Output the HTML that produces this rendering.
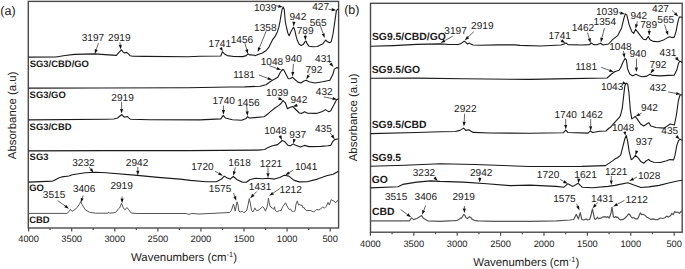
<!DOCTYPE html>
<html><head><meta charset="utf-8"><style>
html,body{margin:0;padding:0;background:#fff;}
svg{display:block;}
text{font-family:"Liberation Sans",sans-serif;fill:#222;text-rendering:geometricPrecision;}
.tk{font-size:9.3px;fill:#222;}
.ti{font-size:11.45px;fill:#222;}
.pl{font-size:12.5px;fill:#222;}
.la{font-size:9.45px;font-weight:bold;fill:#1a1a1a;}
.lb{font-size:10.4px;font-weight:bold;fill:#1a1a1a;}
.an{font-size:10.1px;fill:#222;}
</style></head><body>
<svg width="685" height="269" viewBox="0 0 685 269">
<rect width="685" height="269" fill="#fff"/>
<rect x="28.3" y="1.4" width="310.3" height="226.6" fill="none" stroke="#4a4a4a" stroke-width="1.4"/>
<rect x="370.5" y="3.3" width="311.7" height="228.9" fill="none" stroke="#4a4a4a" stroke-width="1.4"/>
<line x1="28.6" y1="228.0" x2="28.6" y2="231.5" stroke="#4a4a4a" stroke-width="1.2"/>
<text x="28.6" y="242.2" class="tk" text-anchor="middle">4000</text>
<line x1="50.1" y1="228.0" x2="50.1" y2="230.0" stroke="#4a4a4a" stroke-width="1.2"/>
<line x1="71.7" y1="228.0" x2="71.7" y2="231.5" stroke="#4a4a4a" stroke-width="1.2"/>
<text x="71.7" y="242.2" class="tk" text-anchor="middle">3500</text>
<line x1="93.2" y1="228.0" x2="93.2" y2="230.0" stroke="#4a4a4a" stroke-width="1.2"/>
<line x1="114.8" y1="228.0" x2="114.8" y2="231.5" stroke="#4a4a4a" stroke-width="1.2"/>
<text x="114.8" y="242.2" class="tk" text-anchor="middle">3000</text>
<line x1="136.3" y1="228.0" x2="136.3" y2="230.0" stroke="#4a4a4a" stroke-width="1.2"/>
<line x1="157.9" y1="228.0" x2="157.9" y2="231.5" stroke="#4a4a4a" stroke-width="1.2"/>
<text x="157.9" y="242.2" class="tk" text-anchor="middle">2500</text>
<line x1="179.4" y1="228.0" x2="179.4" y2="230.0" stroke="#4a4a4a" stroke-width="1.2"/>
<line x1="200.9" y1="228.0" x2="200.9" y2="231.5" stroke="#4a4a4a" stroke-width="1.2"/>
<text x="200.9" y="242.2" class="tk" text-anchor="middle">2000</text>
<line x1="222.5" y1="228.0" x2="222.5" y2="230.0" stroke="#4a4a4a" stroke-width="1.2"/>
<line x1="244.0" y1="228.0" x2="244.0" y2="231.5" stroke="#4a4a4a" stroke-width="1.2"/>
<text x="244.0" y="242.2" class="tk" text-anchor="middle">1500</text>
<line x1="265.6" y1="228.0" x2="265.6" y2="230.0" stroke="#4a4a4a" stroke-width="1.2"/>
<line x1="287.1" y1="228.0" x2="287.1" y2="231.5" stroke="#4a4a4a" stroke-width="1.2"/>
<text x="287.1" y="242.2" class="tk" text-anchor="middle">1000</text>
<line x1="308.7" y1="228.0" x2="308.7" y2="230.0" stroke="#4a4a4a" stroke-width="1.2"/>
<line x1="330.2" y1="228.0" x2="330.2" y2="231.5" stroke="#4a4a4a" stroke-width="1.2"/>
<text x="330.2" y="242.2" class="tk" text-anchor="middle">500</text>
<line x1="370.4" y1="232.2" x2="370.4" y2="235.7" stroke="#4a4a4a" stroke-width="1.2"/>
<text x="370.4" y="247.2" class="tk" text-anchor="middle">4000</text>
<line x1="392.1" y1="232.2" x2="392.1" y2="234.2" stroke="#4a4a4a" stroke-width="1.2"/>
<line x1="413.8" y1="232.2" x2="413.8" y2="235.7" stroke="#4a4a4a" stroke-width="1.2"/>
<text x="413.8" y="247.2" class="tk" text-anchor="middle">3500</text>
<line x1="435.5" y1="232.2" x2="435.5" y2="234.2" stroke="#4a4a4a" stroke-width="1.2"/>
<line x1="457.2" y1="232.2" x2="457.2" y2="235.7" stroke="#4a4a4a" stroke-width="1.2"/>
<text x="457.2" y="247.2" class="tk" text-anchor="middle">3000</text>
<line x1="478.9" y1="232.2" x2="478.9" y2="234.2" stroke="#4a4a4a" stroke-width="1.2"/>
<line x1="500.6" y1="232.2" x2="500.6" y2="235.7" stroke="#4a4a4a" stroke-width="1.2"/>
<text x="500.6" y="247.2" class="tk" text-anchor="middle">2500</text>
<line x1="522.3" y1="232.2" x2="522.3" y2="234.2" stroke="#4a4a4a" stroke-width="1.2"/>
<line x1="544.0" y1="232.2" x2="544.0" y2="235.7" stroke="#4a4a4a" stroke-width="1.2"/>
<text x="544.0" y="247.2" class="tk" text-anchor="middle">2000</text>
<line x1="565.7" y1="232.2" x2="565.7" y2="234.2" stroke="#4a4a4a" stroke-width="1.2"/>
<line x1="587.4" y1="232.2" x2="587.4" y2="235.7" stroke="#4a4a4a" stroke-width="1.2"/>
<text x="587.4" y="247.2" class="tk" text-anchor="middle">1500</text>
<line x1="609.1" y1="232.2" x2="609.1" y2="234.2" stroke="#4a4a4a" stroke-width="1.2"/>
<line x1="630.8" y1="232.2" x2="630.8" y2="235.7" stroke="#4a4a4a" stroke-width="1.2"/>
<text x="630.8" y="247.2" class="tk" text-anchor="middle">1000</text>
<line x1="652.5" y1="232.2" x2="652.5" y2="234.2" stroke="#4a4a4a" stroke-width="1.2"/>
<line x1="674.2" y1="232.2" x2="674.2" y2="235.7" stroke="#4a4a4a" stroke-width="1.2"/>
<text x="674.2" y="247.2" class="tk" text-anchor="middle">500</text>
<text x="131.0" y="260.9" class="ti">Wavenumbers (cm<tspan dy="-4" font-size="7.5">-1</tspan><tspan dy="4">)</tspan></text>
<text x="473.3" y="265.5" class="ti">Wavenumbers (cm<tspan dy="-4" font-size="7.5">-1</tspan><tspan dy="4">)</tspan></text>
<text transform="translate(15.6,159.2) rotate(-90)" class="ti">Absorbance (a.u)</text>
<text transform="translate(356.8,161.3) rotate(-90)" class="ti">Absorbance (a.u)</text>
<text x="0.3" y="14.9" class="pl">(a)</text>
<text x="344.2" y="14.4" class="pl">(b)</text>
<polyline points="28.4,57.1 56.0,57.0 65.0,55.5 74.7,54.4 94.5,53.9 105.0,54.6 116.4,55.4 118.7,52.7 121.4,49.8 123.1,52.0 124.7,53.0 126.7,52.4 128.1,53.7 130.1,55.7 132.8,56.2 145.0,56.4 188.0,56.8 200.0,56.2 220.8,56.0 222.4,51.7 224.5,54.0 227.3,55.6 233.8,56.5 242.9,56.6 246.2,55.6 248.1,53.9 250.0,54.9 254.6,55.3 255.0,55.7 258.0,54.5 262.4,53.0 266.2,50.5 269.1,46.8 272.8,39.3 275.1,36.4 277.3,31.9 278.8,27.4 280.0,21.5 281.2,14.0 282.2,9.0 283.3,7.1 284.3,10.0 285.3,21.5 286.6,28.0 287.9,33.2 289.2,35.8 290.8,31.9 292.7,28.6 293.6,27.3 294.7,29.9 296.0,35.8 297.3,40.3 299.2,44.2 301.2,45.5 303.1,44.6 305.1,41.6 306.1,41.0 307.0,43.6 309.0,46.2 313.0,46.8 317.3,46.5 322.9,43.7 325.7,40.0 327.5,41.8 329.4,42.8 331.2,41.8 333.1,33.5 335.0,20.4 336.3,11.2 337.4,9.3 338.5,9.5" fill="none" stroke="#1a1a1a" stroke-width="1.1" stroke-linejoin="round"/>
<polyline points="28.4,88.1 100.0,88.0 188.0,87.8 230.0,87.0 244.9,86.9 260.0,86.2 266.0,84.7 271.2,81.0 277.8,77.3 280.1,72.8 282.3,69.6 283.8,69.9 286.0,74.3 288.3,78.8 290.5,78.5 292.4,77.2 294.9,79.5 297.9,82.1 300.9,83.0 303.9,81.0 306.1,80.2 309.1,81.8 315.0,83.0 322.5,81.8 329.9,80.3 332.9,74.3 334.3,69.1 336.6,67.6 338.5,68.0" fill="none" stroke="#1a1a1a" stroke-width="1.1" stroke-linejoin="round"/>
<polyline points="28.4,119.9 106.0,119.2 113.8,119.0 117.5,118.0 120.0,116.0 121.9,114.5 123.2,116.2 124.7,117.2 127.2,116.4 128.7,117.8 130.4,119.2 150.0,119.7 200.0,119.9 220.8,118.9 223.2,115.4 225.4,118.0 232.5,119.7 241.6,120.2 246.2,118.4 247.5,116.7 249.4,118.0 254.6,117.6 263.8,116.7 265.5,115.8 268.0,113.8 270.4,111.6 274.9,108.0 278.6,105.6 281.0,103.5 283.0,100.6 285.3,102.8 287.5,108.8 289.7,107.6 292.7,106.6 295.7,109.5 299.4,113.0 301.6,113.4 304.6,111.8 307.6,113.3 316.5,113.4 322.5,111.5 325.4,109.6 328.4,111.6 330.6,111.0 334.2,104.3 336.4,99.9 337.9,99.1 338.5,99.1" fill="none" stroke="#1a1a1a" stroke-width="1.1" stroke-linejoin="round"/>
<polyline points="28.4,150.9 106.0,150.6 188.0,150.6 258.0,150.1 264.7,149.5 268.2,147.4 271.7,146.0 277.5,144.6 280.0,142.5 282.2,140.5 284.5,141.4 288.0,145.4 290.4,145.8 293.3,143.9 295.0,145.1 300.3,147.0 304.4,145.4 309.0,146.6 320.7,146.4 327.7,145.8 330.7,145.4 332.4,141.9 334.7,139.6 337.7,139.0 338.5,139.0" fill="none" stroke="#1a1a1a" stroke-width="1.1" stroke-linejoin="round"/>
<polyline points="28.4,182.1 52.5,181.1 54.0,180.6 58.7,178.1 61.8,176.9 68.9,176.0 72.2,174.8 85.2,172.8 95.6,172.2 106.0,172.8 137.3,175.4 158.0,177.4 180.0,179.1 190.4,180.4 206.0,181.7 216.4,181.7 221.6,179.1 224.2,176.1 226.8,177.8 230.1,179.1 233.3,176.5 237.2,179.7 242.4,182.3 246.3,182.3 250.2,179.5 255.4,178.2 262.8,178.7 268.0,178.2 274.5,179.1 279.7,177.4 284.3,175.2 288.8,176.1 294.1,180.4 299.3,181.9 307.1,181.7 317.5,179.1 326.6,175.8 333.1,174.3 338.5,171.3" fill="none" stroke="#1a1a1a" stroke-width="1.1" stroke-linejoin="round"/>
<polyline points="370.5,46.3 393.4,45.6 416.7,44.4 439.6,43.9 448.9,44.5 458.2,44.5 461.0,43.6 463.5,41.6 464.7,41.3 466.1,42.7 467.5,44.0 469.4,43.1 470.8,44.1 473.1,45.0 480.0,45.3 498.5,44.9 514.9,44.9 520.0,45.4 540.5,46.0 560.9,45.0 564.0,44.0 566.0,43.0 568.1,44.6 581.4,45.0 589.6,44.6 591.2,43.0 593.7,44.6 597.0,44.8 600.5,43.3 603.0,45.0 608.6,44.0 612.3,39.9 617.9,35.3 621.6,27.9 623.8,18.6 625.3,13.9 626.8,14.9 629.0,24.2 631.8,31.6 633.7,33.4 635.5,29.4 637.4,31.6 640.2,35.3 643.3,39.2 645.9,39.6 648.4,36.4 650.0,39.8 653.4,41.4 658.4,41.8 663.4,40.1 667.6,37.6 669.8,36.7 671.8,37.6 674.3,37.1 676.0,31.7 677.6,23.4 678.8,18.3 679.8,16.7 682.0,17.5" fill="none" stroke="#1a1a1a" stroke-width="1.1" stroke-linejoin="round"/>
<polyline points="370.5,78.2 416.7,78.1 463.5,78.8 530.0,79.4 570.0,78.6 607.1,78.0 611.6,74.0 614.6,71.7 619.0,70.2 620.5,68.0 622.7,62.8 625.0,58.4 626.4,59.9 627.5,68.4 628.7,71.7 630.0,74.2 632.5,75.9 635.9,74.2 638.4,75.4 641.7,76.7 645.9,76.4 650.1,74.2 652.6,75.4 660.1,75.9 668.5,75.4 674.3,75.1 676.8,70.1 678.5,63.4 679.8,60.9 682.0,62.5" fill="none" stroke="#1a1a1a" stroke-width="1.1" stroke-linejoin="round"/>
<polyline points="370.5,133.6 416.7,132.5 440.1,131.8 455.4,131.5 459.9,130.4 461.6,129.4 463.6,128.1 465.8,130.4 468.8,129.7 471.0,131.2 473.2,132.4 490.0,133.0 530.0,133.3 563.5,132.7 565.7,130.2 567.9,132.5 588.0,133.1 590.3,130.9 592.5,132.5 600.0,131.3 605.9,131.0 609.2,128.0 610.4,127.4 614.3,122.8 619.5,117.2 620.4,115.6 622.2,108.7 623.6,96.4 624.8,86.1 626.3,83.1 627.7,84.1 628.9,92.3 630.4,110.7 631.8,118.9 633.4,117.9 635.1,116.4 637.1,118.9 640.6,124.0 643.7,126.0 646.7,124.0 648.8,122.6 650.8,126.0 655.9,127.5 664.1,128.1 670.3,124.0 674.4,125.0 676.4,114.8 678.4,100.5 680.1,94.7 682.0,94.9" fill="none" stroke="#1a1a1a" stroke-width="1.1" stroke-linejoin="round"/>
<polyline points="370.5,166.2 405.0,165.2 440.1,163.8 475.1,164.5 530.0,166.5 582.1,166.4 605.5,165.6 613.3,160.4 615.0,158.9 617.8,157.5 620.6,155.4 622.8,146.9 624.9,138.5 626.3,135.6 627.7,141.3 629.1,151.2 631.2,159.6 632.6,158.9 635.5,155.4 638.3,158.2 641.1,161.8 643.9,163.2 646.0,161.0 648.6,159.4 650.3,161.0 653.8,162.2 660.2,162.5 665.8,161.0 670.0,159.6 673.6,159.9 675.0,155.4 676.8,145.5 678.5,140.6 680.2,139.2 682.0,140.4" fill="none" stroke="#1a1a1a" stroke-width="1.1" stroke-linejoin="round"/>
<polyline points="370.5,187.9 398.0,186.7 402.7,184.4 416.7,182.1 430.7,180.9 440.1,181.4 463.5,182.1 486.8,183.7 510.2,185.6 530.0,185.1 556.0,186.4 563.9,187.2 567.8,183.8 573.0,186.4 578.2,183.3 582.1,187.2 592.5,187.7 608.1,186.4 615.0,185.4 618.5,184.6 628.0,182.8 633.2,184.8 641.0,187.5 648.8,186.9 659.2,185.4 669.6,182.8 677.5,181.0 682.0,180.2" fill="none" stroke="#1a1a1a" stroke-width="1.1" stroke-linejoin="round"/>
<polyline points="28.4,213.4 66.9,213.4 68.9,211.8 70.5,209.4 72.0,211.4 76.1,208.7 79.1,204.7 80.8,201.6 82.2,204.7 85.3,209.8 89.3,212.2 95.5,213.2 107.8,213.2 108.8,212.2 109.8,213.2 115.6,212.5 118.4,208.8 119.7,207.9 121.5,203.2 123.4,207.9 124.9,209.7 127.1,207.5 128.6,209.7 131.4,213.1 137.9,213.5 186.2,213.5 189.0,214.4 191.8,213.5 199.2,214.0 210.0,213.5 229.6,212.5 231.5,210.2 233.4,204.2 234.3,206.9 235.2,211.1 236.2,206.0 237.1,201.8 238.0,205.1 238.9,211.1 240.3,212.1 242.2,211.1 243.6,212.5 245.0,212.1 246.8,210.2 248.2,204.2 249.3,198.6 250.3,203.2 251.5,210.2 252.9,212.1 254.3,209.3 254.9,207.9 255.7,209.7 257.1,210.7 259.4,209.7 261.2,207.9 262.6,206.9 264.0,207.9 265.4,211.1 266.8,207.9 267.8,203.2 268.5,198.1 269.1,202.3 270.1,206.0 270.9,207.4 272.3,207.9 273.7,209.3 274.5,206.8 275.1,209.7 276.5,211.6 277.9,211.6 279.3,210.5 281.2,210.7 282.5,206.9 283.9,205.1 285.6,202.8 286.7,205.1 288.1,207.9 289.5,209.7 290.4,208.8 291.8,211.1 293.7,211.6 295.1,210.7 296.0,204.2 297.4,200.9 297.9,203.2 298.8,205.1 299.7,204.2 300.7,205.5 302.1,205.1 303.0,207.9 303.9,207.4 305.3,209.7 306.9,210.6 310.1,210.4 313.4,211.8 315.2,210.9 316.6,209.5 318.9,210.0 320.8,208.6 322.6,207.2 324.5,208.1 326.4,206.2 328.0,202.5 329.3,204.9 331.2,199.7 332.9,200.7 334.2,201.1 335.6,202.8 337.0,201.1 338.5,200.2" fill="none" stroke="#555555" stroke-width="1.0" stroke-linejoin="round"/>
<polyline points="370.5,220.8 409.3,220.8 411.6,217.9 413.7,219.6 417.2,218.2 421.6,215.6 423.3,218.2 427.7,220.8 439.9,221.4 453.7,220.7 457.4,220.3 459.3,219.1 460.7,218.1 461.6,218.1 462.6,216.3 463.8,214.4 464.9,215.3 466.0,217.7 467.7,218.4 469.5,216.7 470.5,217.2 471.9,219.1 474.2,220.3 477.9,220.9 495.0,221.4 530.1,221.4 556.4,220.9 570.0,220.0 573.7,219.5 575.1,216.7 576.3,214.4 577.4,216.7 578.4,219.1 579.3,215.8 580.2,212.6 581.0,215.8 581.9,219.5 583.5,220.0 584.9,219.5 586.3,219.1 587.7,220.0 589.5,219.5 590.9,215.8 591.9,211.2 592.5,208.8 593.3,213.0 594.2,217.7 595.1,219.5 596.5,218.6 597.4,217.2 598.8,218.6 600.7,218.1 602.6,217.2 604.9,216.6 606.4,217.5 607.8,216.6 609.2,218.0 610.1,216.1 611.0,212.9 612.0,207.0 612.6,211.0 613.4,216.6 614.3,217.5 615.7,216.6 616.6,217.5 617.6,217.1 619.0,218.9 620.8,219.9 623.1,219.4 625.0,218.0 626.9,216.1 628.7,213.8 629.7,214.7 631.0,216.6 632.4,218.0 633.8,217.5 635.7,218.9 637.6,218.9 639.0,216.1 640.3,212.9 641.7,214.7 643.1,214.3 644.9,215.2 646.7,217.1 648.6,218.0 650.9,219.4 653.2,218.9 655.6,219.6 657.9,219.6 660.2,218.0 662.5,218.5 664.9,217.7 666.7,216.1 668.6,217.1 670.9,215.2 671.8,213.3 673.2,214.7 674.6,211.5 676.0,212.4 677.4,212.0 679.3,213.3 681.1,211.5 682.0,211.0" fill="none" stroke="#555555" stroke-width="1.2" stroke-linejoin="round"/>
<text x="29.7" y="66.5" class="la">SG3/CBD/GO</text>
<text x="29.6" y="97.8" class="la">SG3/GO</text>
<text x="29.6" y="129.7" class="la">SG3/CBD</text>
<text x="29.6" y="160.4" class="la">SG3</text>
<text x="29.2" y="191.4" class="la">GO</text>
<text x="29.2" y="222.8" class="la">CBD</text>
<text x="371.9" y="40.2" class="lb">SG9.5/CBD/GO</text>
<text x="371.7" y="73.4" class="lb">SG9.5/GO</text>
<text x="371.7" y="128.2" class="lb">SG9.5/CBD</text>
<text x="371.7" y="161.1" class="lb">SG9.5</text>
<text x="371.7" y="182.6" class="lb">GO</text>
<text x="371.9" y="215.2" class="lb">CBD</text>
<text x="81.7" y="40.9" class="an">3197</text>
<text x="108.1" y="41.4" class="an">2919</text>
<text x="208.6" y="46.5" class="an">1741</text>
<text x="230.7" y="42.8" class="an">1456</text>
<text x="254.1" y="30.8" class="an">1358</text>
<text x="253.9" y="10.8" class="an">1039</text>
<text x="289.5" y="20.4" class="an">942</text>
<text x="296.7" y="33.8" class="an">789</text>
<text x="309.7" y="25.5" class="an">565</text>
<text x="312.2" y="10.2" class="an">427</text>
<text x="233.2" y="77.7" class="an">1181</text>
<text x="260.7" y="65.1" class="an">1048</text>
<text x="285.1" y="62.4" class="an">940</text>
<text x="305.5" y="72.5" class="an">792</text>
<text x="315.1" y="61.7" class="an">431</text>
<text x="111.3" y="101.3" class="an">2919</text>
<text x="212.5" y="103.7" class="an">1740</text>
<text x="237.2" y="106.3" class="an">1456</text>
<text x="266.0" y="95.7" class="an">1039</text>
<text x="290.5" y="103.2" class="an">942</text>
<text x="315.8" y="95.1" class="an">432</text>
<text x="264.2" y="133.8" class="an">1048</text>
<text x="289.3" y="137.6" class="an">937</text>
<text x="315.0" y="132.0" class="an">435</text>
<text x="72.2" y="165.7" class="an">3232</text>
<text x="125.8" y="165.7" class="an">2942</text>
<text x="191.2" y="170.0" class="an">1720</text>
<text x="228.3" y="166.4" class="an">1618</text>
<text x="259.7" y="167.0" class="an">1221</text>
<text x="294.9" y="170.0" class="an">1041</text>
<text x="42.8" y="197.9" class="an">3515</text>
<text x="72.9" y="191.8" class="an">3406</text>
<text x="110.4" y="189.3" class="an">2919</text>
<text x="208.8" y="192.1" class="an">1575</text>
<text x="248.8" y="190.2" class="an">1431</text>
<text x="279.4" y="192.6" class="an">1212</text>
<text x="444.3" y="33.9" class="an">3197</text>
<text x="471.1" y="29.2" class="an">2919</text>
<text x="548.5" y="38.9" class="an">1741</text>
<text x="571.7" y="30.7" class="an">1462</text>
<text x="593.6" y="25.1" class="an">1354</text>
<text x="596.0" y="15.2" class="an">1039</text>
<text x="630.4" y="18.6" class="an">942</text>
<text x="640.2" y="27.5" class="an">789</text>
<text x="657.3" y="23.0" class="an">565</text>
<text x="652.1" y="11.9" class="an">427</text>
<text x="575.4" y="70.0" class="an">1181</text>
<text x="609.2" y="50.2" class="an">1048</text>
<text x="629.5" y="57.4" class="an">940</text>
<text x="649.6" y="67.5" class="an">792</text>
<text x="659.6" y="56.0" class="an">431</text>
<text x="454.1" y="111.8" class="an">2922</text>
<text x="554.5" y="117.5" class="an">1740</text>
<text x="580.4" y="117.5" class="an">1462</text>
<text x="600.9" y="90.0" class="an">1043</text>
<text x="641.1" y="111.2" class="an">942</text>
<text x="649.5" y="91.4" class="an">432</text>
<text x="611.9" y="130.6" class="an">1048</text>
<text x="635.7" y="144.8" class="an">937</text>
<text x="661.3" y="134.1" class="an">435</text>
<text x="412.7" y="175.5" class="an">3232</text>
<text x="470.0" y="175.5" class="an">2942</text>
<text x="536.8" y="177.8" class="an">1720</text>
<text x="574.3" y="177.8" class="an">1621</text>
<text x="605.0" y="175.2" class="an">1221</text>
<text x="637.9" y="179.1" class="an">1028</text>
<text x="384.9" y="199.9" class="an">3515</text>
<text x="414.6" y="199.9" class="an">3406</text>
<text x="452.5" y="199.9" class="an">2919</text>
<text x="553.2" y="202.2" class="an">1575</text>
<text x="591.1" y="201.6" class="an">1431</text>
<text x="625.5" y="203.2" class="an">1212</text>
<line x1="98.4" y1="43.2" x2="96.3" y2="49.5" stroke="#333" stroke-width="0.75"/>
<polygon points="94.8,53.9 94.8,49.0 97.7,50.0" fill="#111"/>
<line x1="119.9" y1="42.3" x2="120.2" y2="44.9" stroke="#333" stroke-width="0.75"/>
<polygon points="120.8,49.5 118.7,45.1 121.8,44.7" fill="#111"/>
<line x1="220.6" y1="47.8" x2="220.7" y2="48.0" stroke="#333" stroke-width="0.75"/>
<polygon points="222.8,51.0 219.4,48.8 222.0,47.1" fill="#111"/>
<line x1="244.9" y1="43.2" x2="246.7" y2="49.5" stroke="#333" stroke-width="0.75"/>
<polygon points="247.9,53.9 245.2,49.9 248.2,49.1" fill="#111"/>
<line x1="266.2" y1="31.2" x2="259.4" y2="47.7" stroke="#333" stroke-width="0.75"/>
<polygon points="257.7,52.0 258.0,47.2 260.9,48.3" fill="#111"/>
<line x1="275.4" y1="5.6" x2="278.4" y2="6.2" stroke="#333" stroke-width="0.75"/>
<polygon points="282.9,7.1 278.1,7.7 278.7,4.7" fill="#111"/>
<line x1="294.0" y1="21.4" x2="294.0" y2="21.9" stroke="#333" stroke-width="0.75"/>
<polygon points="293.6,26.5 292.4,21.8 295.5,22.0" fill="#111"/>
<line x1="305.2" y1="34.4" x2="305.3" y2="35.9" stroke="#333" stroke-width="0.75"/>
<polygon points="305.5,40.5 303.7,36.0 306.8,35.8" fill="#111"/>
<line x1="320.1" y1="25.1" x2="323.2" y2="33.8" stroke="#333" stroke-width="0.75"/>
<polygon points="324.7,38.1 321.7,34.3 324.6,33.2" fill="#111"/>
<line x1="328.5" y1="9.3" x2="331.7" y2="9.7" stroke="#333" stroke-width="0.75"/>
<polygon points="336.3,10.2 331.6,11.2 331.9,8.1" fill="#111"/>
<line x1="259.0" y1="75.0" x2="268.0" y2="78.4" stroke="#333" stroke-width="0.75"/>
<polygon points="272.3,80.0 267.4,79.8 268.5,76.9" fill="#111"/>
<line x1="269.4" y1="65.7" x2="276.9" y2="68.4" stroke="#333" stroke-width="0.75"/>
<polygon points="281.2,69.9 276.3,69.8 277.4,66.9" fill="#111"/>
<line x1="293.4" y1="63.9" x2="292.8" y2="72.0" stroke="#333" stroke-width="0.75"/>
<polygon points="292.5,76.6 291.3,71.9 294.4,72.1" fill="#111"/>
<line x1="309.8" y1="73.6" x2="308.6" y2="75.5" stroke="#333" stroke-width="0.75"/>
<polygon points="306.2,79.4 307.3,74.7 309.9,76.3" fill="#111"/>
<line x1="329.0" y1="61.7" x2="330.5" y2="63.4" stroke="#333" stroke-width="0.75"/>
<polygon points="333.5,66.9 329.3,64.4 331.7,62.4" fill="#111"/>
<line x1="121.6" y1="101.8" x2="121.6" y2="108.9" stroke="#333" stroke-width="0.75"/>
<polygon points="121.6,113.5 120.0,108.9 123.1,108.9" fill="#111"/>
<line x1="223.4" y1="105.4" x2="223.4" y2="110.1" stroke="#333" stroke-width="0.75"/>
<polygon points="223.4,114.7 221.8,110.1 225.0,110.1" fill="#111"/>
<line x1="246.6" y1="104.3" x2="247.1" y2="111.4" stroke="#333" stroke-width="0.75"/>
<polygon points="247.5,116.0 245.6,111.5 248.7,111.3" fill="#111"/>
<line x1="277.6" y1="97.6" x2="278.9" y2="98.3" stroke="#333" stroke-width="0.75"/>
<polygon points="283.0,100.4 278.2,99.7 279.6,96.9" fill="#111"/>
<line x1="297.7" y1="105.1" x2="297.1" y2="105.3" stroke="#333" stroke-width="0.75"/>
<polygon points="292.7,106.6 296.7,103.8 297.6,106.8" fill="#111"/>
<line x1="323.8" y1="96.9" x2="332.7" y2="98.6" stroke="#333" stroke-width="0.75"/>
<polygon points="337.2,99.4 332.4,100.1 333.0,97.0" fill="#111"/>
<line x1="279.9" y1="135.7" x2="280.0" y2="135.9" stroke="#333" stroke-width="0.75"/>
<polygon points="282.0,140.0 278.6,136.6 281.4,135.2" fill="#111"/>
<line x1="294.5" y1="139.0" x2="294.4" y2="139.2" stroke="#333" stroke-width="0.75"/>
<polygon points="293.3,143.7 292.9,138.9 295.9,139.6" fill="#111"/>
<line x1="330.0" y1="132.6" x2="332.0" y2="135.5" stroke="#333" stroke-width="0.75"/>
<polygon points="334.7,139.2 330.8,136.4 333.3,134.6" fill="#111"/>
<line x1="89.1" y1="167.0" x2="90.8" y2="169.2" stroke="#333" stroke-width="0.75"/>
<polygon points="93.6,172.8 89.6,170.1 92.0,168.2" fill="#111"/>
<line x1="137.8" y1="167.0" x2="137.8" y2="170.8" stroke="#333" stroke-width="0.75"/>
<polygon points="137.8,175.4 136.2,170.8 139.4,170.8" fill="#111"/>
<line x1="215.1" y1="171.3" x2="218.9" y2="173.5" stroke="#333" stroke-width="0.75"/>
<polygon points="222.9,175.8 218.1,174.8 219.7,172.2" fill="#111"/>
<line x1="235.3" y1="167.4" x2="234.4" y2="171.3" stroke="#333" stroke-width="0.75"/>
<polygon points="233.3,175.8 232.9,171.0 235.9,171.7" fill="#111"/>
<line x1="268.0" y1="167.4" x2="268.0" y2="173.2" stroke="#333" stroke-width="0.75"/>
<polygon points="268.0,177.8 266.4,173.2 269.6,173.2" fill="#111"/>
<line x1="293.4" y1="170.0" x2="289.1" y2="172.7" stroke="#333" stroke-width="0.75"/>
<polygon points="285.2,175.2 288.3,171.4 289.9,174.0" fill="#111"/>
<line x1="57.7" y1="200.6" x2="65.2" y2="206.0" stroke="#333" stroke-width="0.75"/>
<polygon points="68.9,208.7 64.3,207.3 66.1,204.7" fill="#111"/>
<line x1="83.2" y1="195.4" x2="82.3" y2="198.2" stroke="#333" stroke-width="0.75"/>
<polygon points="80.8,202.6 80.8,197.7 83.7,198.7" fill="#111"/>
<line x1="122.1" y1="196.5" x2="122.1" y2="198.6" stroke="#333" stroke-width="0.75"/>
<polygon points="122.1,203.2 120.5,198.6 123.6,198.6" fill="#111"/>
<line x1="233.5" y1="193.0" x2="234.7" y2="196.5" stroke="#333" stroke-width="0.75"/>
<polygon points="236.3,200.8 233.3,197.0 236.2,195.9" fill="#111"/>
<line x1="256.7" y1="191.5" x2="253.4" y2="194.9" stroke="#333" stroke-width="0.75"/>
<polygon points="250.2,198.2 252.3,193.8 254.5,196.0" fill="#111"/>
<line x1="280.0" y1="188.4" x2="273.0" y2="193.2" stroke="#333" stroke-width="0.75"/>
<polygon points="269.2,195.8 272.1,191.9 273.9,194.5" fill="#111"/>
<line x1="452.7" y1="36.2" x2="444.6" y2="40.7" stroke="#333" stroke-width="0.75"/>
<polygon points="440.6,42.9 443.9,39.3 445.4,42.0" fill="#111"/>
<line x1="474.0" y1="31.5" x2="468.0" y2="37.2" stroke="#333" stroke-width="0.75"/>
<polygon points="464.7,40.4 467.0,36.1 469.1,38.3" fill="#111"/>
<line x1="560.5" y1="39.9" x2="561.5" y2="40.5" stroke="#333" stroke-width="0.75"/>
<polygon points="565.4,43.0 560.7,41.9 562.3,39.2" fill="#111"/>
<line x1="587.5" y1="32.7" x2="589.3" y2="38.6" stroke="#333" stroke-width="0.75"/>
<polygon points="590.6,43.0 587.8,39.0 590.8,38.1" fill="#111"/>
<line x1="604.5" y1="27.9" x2="601.9" y2="37.9" stroke="#333" stroke-width="0.75"/>
<polygon points="600.8,42.4 600.4,37.6 603.4,38.3" fill="#111"/>
<line x1="618.8" y1="12.6" x2="620.4" y2="12.9" stroke="#333" stroke-width="0.75"/>
<polygon points="624.9,13.9 620.1,14.5 620.7,11.4" fill="#111"/>
<line x1="637.4" y1="21.4" x2="636.6" y2="24.3" stroke="#333" stroke-width="0.75"/>
<polygon points="635.5,28.8 635.1,24.0 638.1,24.7" fill="#111"/>
<line x1="649.2" y1="29.0" x2="649.2" y2="31.0" stroke="#333" stroke-width="0.75"/>
<polygon points="649.2,35.6 647.7,31.0 650.8,31.0" fill="#111"/>
<line x1="664.5" y1="24.5" x2="666.7" y2="31.2" stroke="#333" stroke-width="0.75"/>
<polygon points="668.2,35.6 665.3,31.7 668.2,30.7" fill="#111"/>
<line x1="672.0" y1="10.4" x2="675.0" y2="13.3" stroke="#333" stroke-width="0.75"/>
<polygon points="678.3,16.5 673.9,14.4 676.1,12.2" fill="#111"/>
<line x1="601.2" y1="67.3" x2="609.5" y2="70.4" stroke="#333" stroke-width="0.75"/>
<polygon points="613.8,72.0 608.9,71.8 610.0,68.9" fill="#111"/>
<line x1="623.5" y1="51.0" x2="623.8" y2="53.4" stroke="#333" stroke-width="0.75"/>
<polygon points="624.5,58.0 622.3,53.7 625.4,53.2" fill="#111"/>
<line x1="636.6" y1="58.5" x2="636.4" y2="67.4" stroke="#333" stroke-width="0.75"/>
<polygon points="636.3,72.0 634.9,67.4 638.0,67.4" fill="#111"/>
<line x1="654.3" y1="68.4" x2="653.2" y2="69.8" stroke="#333" stroke-width="0.75"/>
<polygon points="650.4,73.4 652.0,68.8 654.5,70.7" fill="#111"/>
<line x1="675.1" y1="56.7" x2="676.2" y2="57.8" stroke="#333" stroke-width="0.75"/>
<polygon points="679.3,61.2 675.0,58.9 677.3,56.8" fill="#111"/>
<line x1="464.6" y1="113.7" x2="464.2" y2="121.9" stroke="#333" stroke-width="0.75"/>
<polygon points="463.9,126.5 462.6,121.8 465.7,122.0" fill="#111"/>
<line x1="565.7" y1="119.1" x2="565.7" y2="125.0" stroke="#333" stroke-width="0.75"/>
<polygon points="565.7,129.6 564.2,125.0 567.2,125.0" fill="#111"/>
<line x1="590.7" y1="119.1" x2="590.7" y2="126.3" stroke="#333" stroke-width="0.75"/>
<polygon points="590.7,130.9 589.2,126.3 592.2,126.3" fill="#111"/>
<line x1="622.6" y1="82.7" x2="622.8" y2="82.8" stroke="#333" stroke-width="0.75"/>
<polygon points="626.4,84.0 622.3,84.2 623.3,81.3" fill="#111"/>
<line x1="641.6" y1="113.1" x2="639.5" y2="114.3" stroke="#333" stroke-width="0.75"/>
<polygon points="635.5,116.5 638.8,112.9 640.3,115.6" fill="#111"/>
<line x1="668.1" y1="91.9" x2="676.2" y2="93.4" stroke="#333" stroke-width="0.75"/>
<polygon points="680.7,94.3 675.9,95.0 676.5,91.9" fill="#111"/>
<line x1="624.7" y1="131.5" x2="624.7" y2="131.7" stroke="#333" stroke-width="0.75"/>
<polygon points="625.4,135.5 623.2,132.0 626.3,131.4" fill="#111"/>
<line x1="636.9" y1="150.3" x2="636.8" y2="150.8" stroke="#333" stroke-width="0.75"/>
<polygon points="635.5,155.2 635.3,150.4 638.3,151.2" fill="#111"/>
<line x1="675.7" y1="135.6" x2="676.4" y2="136.2" stroke="#333" stroke-width="0.75"/>
<polygon points="679.9,139.2 675.4,137.4 677.4,135.0" fill="#111"/>
<line x1="434.3" y1="177.4" x2="434.5" y2="177.6" stroke="#333" stroke-width="0.75"/>
<polygon points="437.8,180.9 433.5,178.7 435.6,176.6" fill="#111"/>
<line x1="479.8" y1="176.9" x2="479.8" y2="177.9" stroke="#333" stroke-width="0.75"/>
<polygon points="479.8,182.5 478.2,177.9 481.4,177.9" fill="#111"/>
<line x1="560.0" y1="179.4" x2="563.8" y2="181.5" stroke="#333" stroke-width="0.75"/>
<polygon points="567.8,183.8 563.0,182.9 564.6,180.2" fill="#111"/>
<line x1="579.0" y1="178.6" x2="579.0" y2="178.8" stroke="#333" stroke-width="0.75"/>
<polygon points="578.2,183.3 577.4,178.6 580.5,179.1" fill="#111"/>
<line x1="611.3" y1="176.0" x2="611.3" y2="180.5" stroke="#333" stroke-width="0.75"/>
<polygon points="611.3,185.1 609.8,180.5 612.8,180.5" fill="#111"/>
<line x1="637.1" y1="177.0" x2="633.4" y2="178.9" stroke="#333" stroke-width="0.75"/>
<polygon points="629.3,181.0 632.7,177.5 634.1,180.3" fill="#111"/>
<line x1="400.6" y1="209.5" x2="407.4" y2="214.6" stroke="#333" stroke-width="0.75"/>
<polygon points="411.1,217.3 406.5,215.8 408.3,213.3" fill="#111"/>
<line x1="425.6" y1="205.6" x2="423.8" y2="210.4" stroke="#333" stroke-width="0.75"/>
<polygon points="422.1,214.7 422.3,209.9 425.2,211.0" fill="#111"/>
<line x1="464.4" y1="206.0" x2="464.4" y2="208.4" stroke="#333" stroke-width="0.75"/>
<polygon points="464.4,213.0 462.8,208.4 465.9,208.4" fill="#111"/>
<line x1="576.5" y1="203.7" x2="577.6" y2="206.2" stroke="#333" stroke-width="0.75"/>
<polygon points="579.5,210.4 576.2,206.8 579.0,205.6" fill="#111"/>
<line x1="597.9" y1="202.3" x2="595.6" y2="204.8" stroke="#333" stroke-width="0.75"/>
<polygon points="592.5,208.2 594.5,203.8 596.7,205.9" fill="#111"/>
<line x1="624.5" y1="200.3" x2="617.2" y2="204.4" stroke="#333" stroke-width="0.75"/>
<polygon points="613.2,206.6 616.5,203.0 618.0,205.7" fill="#111"/>
</svg></body></html>
